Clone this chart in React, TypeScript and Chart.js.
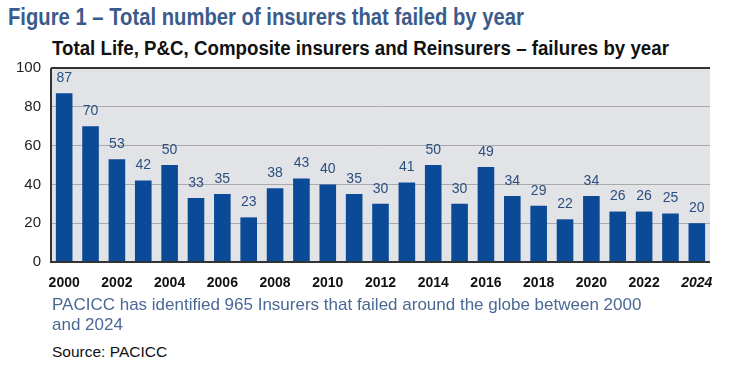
import React, { useEffect, useRef } from "react";
import { Chart, registerables } from "chart.js";

Chart.register(...registerables);

const years = ["2000","2001","2002","2003","2004","2005","2006","2007","2008","2009","2010","2011","2012","2013","2014","2015","2016","2017","2018","2019","2020","2021","2022","2023","2024"];
const failures = [87,70,53,42,50,33,35,23,38,43,40,35,30,41,50,30,49,34,29,22,34,26,26,25,20];
const yTicks = [0, 20, 40, 60, 80, 100];

const titleText = "Figure 1 – Total number of insurers that failed by year";
const subtitleText = "Total Life, P&C, Composite insurers and Reinsurers – failures by year";
const noteLine1 = "PACICC has identified 965 Insurers that failed around the globe between 2000";
const noteLine2 = "and 2024";
const sourceText = "Source: PACICC";

const SANS = "'Liberation Sans', Arial, sans-serif";

const bgPlugin = {
  id: "bgPlugin",
  beforeDraw(chart: any) {
    const { ctx, chartArea } = chart;
    ctx.save();
    ctx.fillStyle = "#e2e3e6";
    ctx.fillRect(chartArea.left, chartArea.top, chartArea.right - chartArea.left, chartArea.bottom - chartArea.top);
    ctx.restore();
  },
  afterDatasetsDraw(chart: any) {
    const { ctx, chartArea } = chart;
    ctx.save();
    ctx.strokeStyle = "#333333";
    ctx.lineWidth = 2;
    ctx.beginPath();
    ctx.moveTo(chartArea.left, chartArea.top);
    ctx.lineTo(chartArea.right, chartArea.top);
    ctx.moveTo(chartArea.left, chartArea.top);
    ctx.lineTo(chartArea.left, chartArea.bottom);
    ctx.lineTo(chartArea.right, chartArea.bottom);
    ctx.stroke();
    const meta = chart.getDatasetMeta(0);
    ctx.fillStyle = "#2a4f7f";
    ctx.font = `14px ${SANS}`;
    ctx.textAlign = "center";
    ctx.textBaseline = "bottom";
    meta.data.forEach((bar: any, i: number) => {
      ctx.fillText(String(failures[i]), bar.x, bar.y - 8);
    });
    ctx.restore();
  },
};

export default function App() {
  const ref = useRef<HTMLCanvasElement>(null);
  useEffect(() => {
    const chart = new Chart(ref.current!, {
      type: "bar",
      data: {
        labels: years,
        datasets: [
          {
            data: failures,
            backgroundColor: "#0b4a97",
            barPercentage: 0.63,
            categoryPercentage: 1,
          },
        ],
      },
      options: {
        animation: false,
        responsive: false,
        maintainAspectRatio: false,
        layout: { padding: { left: 0, right: 42, top: 6, bottom: 0 } },
        plugins: { legend: { display: false }, tooltip: { enabled: false } },
        scales: {
          x: {
            grid: { display: false, drawTicks: false },
            border: { display: false },
            ticks: {
              autoSkip: false,
              maxRotation: 0,
              padding: 13,
              color: "#111111",
              font: (c: any) => ({ family: SANS, size: 14, weight: "bold", style: c.index === years.length - 1 ? "italic" : "normal" }) as any,
              callback: (_v: any, i: number) => (i % 2 === 0 ? years[i] : ""),
            },
            afterFit: (s: any) => { s.height = 38; },
          },
          y: {
            min: 0,
            max: 100,
            afterBuildTicks: (s: any) => { s.ticks = yTicks.map((v) => ({ value: v })); },
            grid: { color: (c: any) => (c.tick && (c.tick.value === 0 || c.tick.value === 100) ? "rgba(0,0,0,0)" : "#aaaaaa"), lineWidth: 1, drawTicks: false },
            border: { display: false },
            ticks: { padding: 10, color: "#222222", font: { family: SANS, size: 15 } },
            afterFit: (s: any) => { s.width = 51; },
          },
        },
      },
      plugins: [bgPlugin],
    });
    return () => chart.destroy();
  }, []);

  return (
    <div style={{ position: "absolute", left: 0, top: 0, width: 752, height: 372, background: "#ffffff", overflow: "hidden" }}>
      <div style={{ position: "absolute", left: 8, top: 4, fontFamily: SANS, fontWeight: "bold", fontSize: 23, color: "#3b5b8b", whiteSpace: "nowrap", transform: "scaleX(0.88)", transformOrigin: "left top" }}>{titleText}</div>
      <div style={{ position: "absolute", left: 52, top: 37, fontFamily: SANS, fontWeight: "bold", fontSize: 20, color: "#111111", whiteSpace: "nowrap", transform: "scaleX(0.935)", transformOrigin: "left top" }}>{subtitleText}</div>
      <canvas ref={ref} width={752} height={251} style={{ position: "absolute", left: 0, top: 49, width: 752, height: 251 }} />
      <div style={{ position: "absolute", left: 52, top: 295, fontFamily: SANS, fontSize: 17, lineHeight: "20px", color: "#4a6894", whiteSpace: "nowrap" }}>
        <div>{noteLine1}</div>
        <div>{noteLine2}</div>
      </div>
      <div style={{ position: "absolute", left: 52, top: 343, fontFamily: SANS, fontSize: 15.5, color: "#111111", whiteSpace: "nowrap" }}>{sourceText}</div>
    </div>
  );
}
